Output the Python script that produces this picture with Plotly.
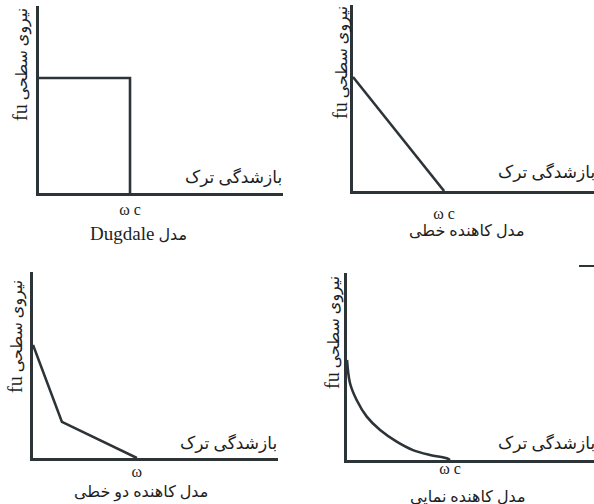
import plotly.graph_objects as go

# ---- data (arbitrary units) ----
dugdale_x = [0, 3.73, 3.73]
dugdale_y = [6.15, 6.15, 0]
linear_x = [0, 3.78]
linear_y = [6.13, 0]
bilinear_x = [0, 1.18, 4.24]
bilinear_y = [6.08, 1.94, 0]
exp_x = [0, 0.12, 0.39, 0.80, 1.34, 2.01, 2.67, 3.36, 4.04, 4.17]
exp_y = [5.35, 4.12, 3.21, 2.32, 1.60, 0.98, 0.53, 0.27, 0.09, 0]

wc_ticks = [3.73, 3.78, 4.24, 4.17]
wc_labels = ["ω c", "ω c", "ω", "ω c"]
titles = ["<span style='font-size:19px'>Dugdale</span> مدل", "مدل کاهنده خطی", "مدل کاهنده دو خطی", "مدل کاهنده نمایی"]
ylabel_sym = "fu"
ylabel_txt = "نیروی سطحی"
xlabel = "بازشدگی ترک"

W, H = 594, 504
INK = "#2d3438"
TXT = "#1e1e1e"
FONT = "Liberation Serif, DejaVu Sans, serif"

def fx(px):
    return px / W

def fy(py):
    return 1 - py / H

# panel boxes in pixels: (x0, x1, ytop, ybottom)
boxes = [(39, 283, 6, 193), (353, 594, 5, 191), (33, 278, 272, 458), (347, 594, 273, 460)]
standoffs = [0, 6, -3, -8]

fig = go.Figure()
series = [(dugdale_x, dugdale_y), (linear_x, linear_y), (bilinear_x, bilinear_y), (exp_x, exp_y)]
for i, (xs, ys) in enumerate(series):
    sfx = "" if i == 0 else str(i + 1)
    fig.add_trace(go.Scatter(x=xs, y=ys, mode="lines", xaxis="x" + sfx, yaxis="y" + sfx,
                             line=dict(color=INK, width=2.6, shape="spline" if i == 3 else "linear"),
                             showlegend=False, hoverinfo="skip"))

layout = dict(width=W, height=H, margin=dict(l=0, r=0, t=0, b=0),
              paper_bgcolor="white", plot_bgcolor="white", showlegend=False)
for i, (x0, x1, yt, yb) in enumerate(boxes):
    sfx = "" if i == 0 else str(i + 1)
    layout["xaxis" + sfx] = dict(domain=[fx(x0), fx(x1)], range=[0, 10], anchor="y" + sfx,
                                 showline=True, linewidth=3, linecolor=INK, showgrid=False,
                                 zeroline=False, ticks="", tickvals=[wc_ticks[i]],
                                 ticktext=[wc_labels[i]], ticklabelstandoff=standoffs[i],
                                 tickfont=dict(family=FONT, size=16, color=TXT), fixedrange=True)
    layout["yaxis" + sfx] = dict(domain=[fy(yb), fy(yt)], range=[0, 10], anchor="x" + sfx,
                                 showline=True, linewidth=3, linecolor=INK, showgrid=False,
                                 zeroline=False, ticks="", showticklabels=False, fixedrange=True)

annotations = []
ylab_pos = [(20, 65), (340, 62), (15, 337), (332, 333)]
xlab_pos = [(284, 177), (597, 172), (279, 443), (597, 443)]
title_pos = [(138, 233), (466, 231), (141, 492), (468, 496)]
for i in range(4):
    ytext = "<span style='font-size:20px'>" + ylabel_sym + "</span> " + ylabel_txt
    annotations.append(dict(text=ytext, x=fx(ylab_pos[i][0]), y=fy(ylab_pos[i][1]), xref="paper", yref="paper",
                            textangle=-90, showarrow=False, xanchor="center", yanchor="middle",
                            font=dict(family=FONT, size=16, color=TXT)))
    annotations.append(dict(text=xlabel, x=fx(xlab_pos[i][0]), y=fy(xlab_pos[i][1]), xref="paper", yref="paper",
                            showarrow=False, xanchor="right", yanchor="middle",
                            font=dict(family=FONT, size=17, color=TXT)))
    annotations.append(dict(text=titles[i], x=fx(title_pos[i][0]), y=fy(title_pos[i][1]), xref="paper", yref="paper",
                            showarrow=False, xanchor="center", yanchor="middle",
                            font=dict(family=FONT, size=16, color=TXT)))
layout["annotations"] = annotations
layout["shapes"] = [dict(type="line", xref="paper", yref="paper", x0=fx(579), x1=fx(594), y0=fy(266), y1=fy(266),
                         line=dict(color=INK, width=2))]

fig.update_layout(**layout)
fig.write_html("out.html", config={"displayModeBar": False},
               post_script="document.body.style.margin='0';document.body.style.overflow='hidden';")
